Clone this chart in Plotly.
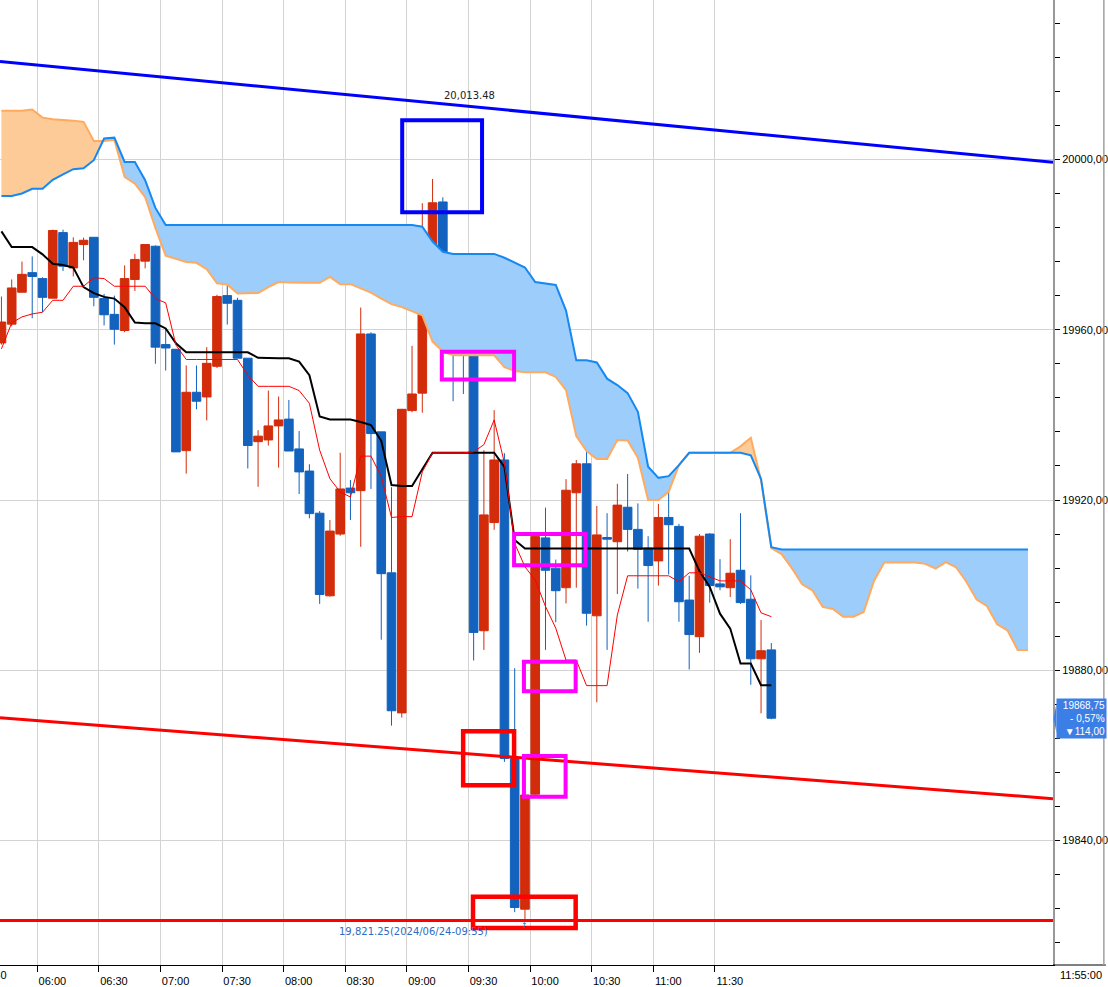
import plotly.graph_objects as go

# ---------------- data ----------------
first_time = "05:40"
n_candles = 76
n_future = 25

opens = [19956.9, 19961.3, 19968.8, 19973.4, 19972.0, 19967.4, 19982.8, 19974.5, 19980.0, 19981.7,
         19967.3, 19963.6, 19959.8, 19971.8, 19976.1, 19979.6, 19956.5, 19955.4, 19931.6, 19945.3,
         19944.2, 19951.4, 19968.0, 19966.9, 19953.3, 19933.7, 19934.1, 19937.4, 19939.0, 19932.0,
         19926.8, 19916.9, 19897.5, 19912.0, 19922.8, 19922.2, 19959.0, 19936.0, 19902.9, 19870.0,
         19941.0, 19945.1, 19974.9, 19990.0, 19976.8, 19960.4, 19954.8, 19889.3, 19914.7, 19929.4,
         19859.3, 19823.9, 19850.9, 19911.1, 19904.0, 19899.4, 19921.7, 19928.5, 19892.8, 19911.2,
         19910.2, 19918.3, 19913.1, 19908.7, 19905.7, 19915.9, 19913.8, 19896.5, 19887.9, 19912.0,
         19900.3, 19899.4, 19903.5, 19896.7, 19882.7, 19884.8]
highs = [19967.8, 19971.8, 19976.0, 19977.2, 19972.3, 19983.5, 19983.5, 19981.7, 19981.6, 19981.7,
         19968.4, 19968.0, 19975.1, 19977.8, 19980.0, 19979.8, 19960.1, 19955.4, 19951.6, 19951.6,
         19955.9, 19968.2, 19970.6, 19967.5, 19953.3, 19936.4, 19945.7, 19944.3, 19943.5, 19936.2,
         19928.4, 19917.4, 19915.3, 19931.1, 19924.7, 19965.2, 19959.4, 19936.0, 19923.0, 19941.4,
         19956.2, 19989.7, 19995.4, 19991.1, 19976.8, 19963.8, 19958.7, 19931.7, 19941.1, 19931.0,
         19880.5, 19850.7, 19911.6, 19918.2, 19906.0, 19924.9, 19929.4, 19931.7, 19918.6, 19916.9,
         19923.8, 19926.1, 19919.2, 19911.5, 19919.1, 19922.0, 19914.4, 19902.2, 19912.0, 19912.2,
         19906.1, 19910.8, 19916.9, 19902.3, 19891.8, 19886.4]
lows = [19956.5, 19960.8, 19968.8, 19962.7, 19964.1, 19967.4, 19973.8, 19972.5, 19976.3, 19965.5,
        19961.0, 19956.5, 19959.4, 19969.1, 19974.4, 19952.0, 19950.4, 19931.3, 19926.2, 19941.3,
        19938.7, 19951.0, 19961.2, 19953.3, 19927.4, 19923.1, 19932.8, 19927.6, 19931.5, 19921.4,
        19915.7, 19895.6, 19897.3, 19911.6, 19915.3, 19909.0, 19922.6, 19887.2, 19867.0, 19868.9,
        19940.6, 19940.5, 19960.3, 19961.8, 19943.2, 19944.9, 19882.3, 19884.8, 19913.0, 19858.5,
        19823.2, 19821.25, 19850.5, 19884.8, 19891.3, 19895.7, 19899.4, 19890.5, 19872.5, 19884.8,
        19897.9, 19907.9, 19899.2, 19891.4, 19899.9, 19902.5, 19891.4, 19880.2, 19884.1, 19895.9,
        19898.8, 19897.2, 19895.6, 19876.6, 19869.9, 19868.5]
closes = [19961.8, 19969.8, 19973.0, 19972.5, 19967.6, 19983.3, 19974.9, 19980.5, 19981.0, 19967.6,
          19963.5, 19960.1, 19972.0, 19976.5, 19980.0, 19955.9, 19955.7, 19931.3, 19945.3, 19943.2,
          19952.1, 19967.8, 19966.2, 19953.3, 19932.8, 19935.0, 19937.4, 19938.8, 19931.5, 19926.6,
          19916.8, 19897.8, 19912.7, 19922.6, 19921.7, 19959.0, 19935.6, 19902.7, 19870.5, 19941.3,
          19944.9, 19974.9, 19989.8, 19977.0, 19960.2, 19955.5, 19888.9, 19916.5, 19929.4, 19859.3,
          19824.3, 19850.7, 19911.4, 19903.5, 19898.7, 19922.3, 19928.5, 19893.4, 19911.8, 19910.8,
          19918.8, 19913.1, 19908.4, 19904.6, 19915.9, 19914.2, 19896.1, 19888.4, 19911.5, 19899.9,
          19899.6, 19902.8, 19895.9, 19882.7, 19884.6, 19868.75]

tenkan = [19955.5, 19961.6, 19963.0, 19963.7, 19964.1, 19966.9, 19966.9, 19970.2, 19970.2, 19972.2,
          19972.0, 19970.2, 19970.2, 19970.2, 19970.2, 19967.3, 19966.3, 19956.4, 19953.0, 19953.0,
          19953.0, 19953.0, 19953.0, 19953.0, 19949.3, 19946.7, 19946.7, 19946.7, 19946.7, 19945.7,
          19942.7, 19931.7, 19925.0, 19921.9, 19920.7, 19930.3, 19930.3, 19925.5, 19915.9, 19916.1,
          19916.1, 19926.6, 19931.1, 19931.1, 19931.1, 19931.1, 19931.3, 19933.0, 19938.8, 19928.7,
          19909.8, 19904.3, 19901.2, 19895.0, 19889.9, 19882.4, 19882.4, 19876.4, 19876.4, 19876.4,
          19893.0, 19902.2, 19902.2, 19902.2, 19902.2, 19902.2, 19900.8, 19902.9, 19902.9, 19902.0,
          19901.0, 19901.0, 19901.0, 19898.9, 19893.5, 19892.6]
kijun = [19983.1, 19979.4, 19979.4, 19979.4, 19977.7, 19975.5, 19975.2, 19974.6, 19970.0, 19968.6,
         19967.7, 19967.3, 19965.3, 19961.7, 19961.5, 19961.5, 19960.3, 19956.8, 19954.7, 19954.7,
         19954.7, 19954.7, 19954.7, 19954.7, 19954.7, 19953.4, 19953.3, 19953.3, 19953.3, 19952.5,
         19949.3, 19939.6, 19938.9, 19938.9, 19938.9, 19938.3, 19937.6, 19933.9, 19923.5, 19923.3,
         19923.3, 19927.2, 19931.1, 19931.1, 19931.1, 19931.1, 19931.1, 19931.1, 19931.1, 19927.8,
         19910.6, 19908.6, 19908.6, 19908.6, 19908.6, 19908.6, 19908.6, 19908.6, 19908.6, 19908.6,
         19908.6, 19908.6, 19908.6, 19908.6, 19908.6, 19908.6, 19908.6, 19908.6, 19903.3, 19899.6,
         19893.3, 19889.8, 19881.6, 19881.6, 19876.5, 19876.5]

# leading spans (current candles + 25 future periods)
span_a = [19991.4, 19991.4, 19992.0, 19993.1, 19993.1, 19995.2, 19996.5, 19997.7, 19997.9, 19999.8,
          20004.9, 20005.1, 19999.4, 19999.4, 19995.1, 19988.6, 19984.6, 19984.6, 19984.6, 19984.6,
          19984.6, 19984.6, 19984.6, 19984.6, 19984.6, 19984.6, 19984.6, 19984.6, 19984.6, 19984.6,
          19984.6, 19984.6, 19984.6, 19984.6, 19984.6, 19984.6, 19984.6, 19984.6, 19984.6, 19984.6,
          19984.6, 19984.2, 19980.7, 19978.3, 19977.8, 19977.8, 19977.8, 19977.8, 19977.8, 19976.9,
          19975.8, 19974.6, 19971.2, 19970.8, 19970.5, 19964.5, 19952.8, 19952.8, 19952.3, 19948.5,
          19947.0, 19945.1, 19940.7, 19927.8, 19925.2, 19925.6, 19928.2, 19931.1, 19931.1, 19931.1,
          19931.1, 19931.1, 19931.1, 19930.5, 19924.9, 19908.9, 19908.4, 19908.4, 19908.4, 19908.4,
          19908.4, 19908.4, 19908.4, 19908.4, 19908.4, 19908.4, 19908.4, 19908.4, 19908.4, 19908.4,
          19908.4, 19908.4, 19908.4, 19908.4, 19908.4, 19908.4, 19908.4, 19908.4, 19908.4, 19908.4,
          19908.4]
span_b = [20011.4, 20011.4, 20011.4, 20011.7, 20009.8, 20009.4, 20009.3, 20009.1, 20008.8, 20004.3,
          20004.3, 20004.6, 19995.9, 19994.3, 19991.1, 19983.9, 19977.4, 19976.7, 19975.9, 19975.7,
          19974.2, 19970.9, 19970.6, 19968.5, 19968.5, 19968.6, 19970.0, 19971.2, 19971.1, 19971.0,
          19971.0, 19971.0, 19972.4, 19970.7, 19970.7, 19969.7, 19968.7, 19967.3, 19966.0, 19965.3,
          19964.3, 19963.4, 19957.2, 19954.9, 19954.0, 19954.0, 19954.0, 19954.0, 19954.0, 19951.2,
          19950.3, 19950.0, 19950.0, 19950.0, 19948.9, 19945.8, 19935.0, 19931.5, 19929.6, 19929.6,
          19934.1, 19934.0, 19929.9, 19920.0, 19920.0, 19921.9, 19928.2, 19931.1, 19931.1, 19931.1,
          19931.1, 19931.1, 19932.6, 19934.6, 19924.6, 19908.7, 19907.3, 19904.0, 19900.2, 19898.8,
          19894.9, 19894.4, 19892.6, 19892.6, 19893.7, 19901.0, 19905.3, 19905.3, 19905.3, 19905.3,
          19905.0, 19903.9, 19905.4, 19904.2, 19900.8, 19896.6, 19895.1, 19890.8, 19889.4, 19884.8,
          19884.8]

x_tick_labels = ["06:00", "06:30", "07:00", "07:30", "08:00", "08:30", "09:00",
                 "09:30", "10:00", "10:30", "11:00", "11:30"]
y_tick_values = [19840, 19880, 19920, 19960, 20000]
y_tick_labels = ["19840,00", "19880,00", "19920,00", "19960,00", "20000,00"]

# hand-drawn objects (minutes from 06:00, price)
trend_x = [-18.2, 494.7]
blue_trend_y = [20023.0, 19999.3]
red_trend_y = [19868.85, 19849.85]
support_level = 19821.25
blue_label_text = "20,013.48"
blue_label_pos = (210.3, 20015.1)
low_date = "2024/06/24"
prev_close_change = (-0.57, 114.00)
boxes = [  # x0, x1, y0, y1, color, width
    (177.7, 216.6, 19987.6, 20009.2, "#0000FF", 4),
    (197.0, 232.2, 19948.3, 19954.8, "#FF00FF", 4),
    (232.2, 267.0, 19904.7, 19912.0, "#FF00FF", 4),
    (237.0, 262.2, 19875.1, 19882.0, "#FF00FF", 4),
    (237.0, 257.3, 19850.3, 19859.9, "#FF00FF", 4),
    (207.4, 232.2, 19853.0, 19865.7, "#FF0000", 4.5),
    (212.2, 262.2, 19819.5, 19826.8, "#FF0000", 4.5),
]
last_label = "11:55:00"
hidden_left_label = "05:30"

# ---------------- helpers ----------------
def to_min(s):
    h, m = s.split(":")
    return (int(h) - 6) * 60 + int(m)

start = to_min(first_time)
candle_min = [start + 5 * i for i in range(n_candles)]
cx = [m + 2.5 for m in candle_min]
cloud_x = [start + 5 * i + 2.5 for i in range(n_candles + n_future)]
times = ["%02d:%02d" % ((m + 360) // 60, (m + 360) % 60) for m in candle_min]

X_RANGE = [-18.2, 494.7]
RED = "#D22C0B"
BLUE = "#1262BE"

fig = go.Figure()

# cloud fill split by which span is on top
def runs(x, a, b):
    out = []
    sign = a[0] >= b[0]
    rx, ra, rb = [x[0]], [a[0]], [b[0]]
    for i in range(1, len(x)):
        s = a[i] >= b[i]
        if s != sign:
            d0 = a[i - 1] - b[i - 1]
            d1 = a[i] - b[i]
            t = d0 / (d0 - d1)
            xi = x[i - 1] + t * (x[i] - x[i - 1])
            yi = a[i - 1] + t * (a[i] - a[i - 1])
            rx.append(xi); ra.append(yi); rb.append(yi)
            out.append((sign, rx, ra, rb))
            rx, ra, rb = [xi], [yi], [yi]
            sign = s
        rx.append(x[i]); ra.append(a[i]); rb.append(b[i])
    out.append((sign, rx, ra, rb))
    return out

for sign, rx, ra, rb in runs(cloud_x, span_a, span_b):
    fig.add_trace(go.Scatter(
        x=rx + rx[::-1], y=ra + rb[::-1], mode="lines", fill="toself",
        fillcolor="#9DCDFB" if sign else "#FDCB98",
        line=dict(width=0), hoverinfo="skip", showlegend=False))

fig.add_trace(go.Scatter(x=cloud_x, y=span_b, mode="lines",
                         line=dict(color="#FFAA5E", width=2), showlegend=False))
fig.add_trace(go.Scatter(x=cloud_x, y=span_a, mode="lines",
                         line=dict(color="#1688F2", width=2), showlegend=False))
fig.add_trace(go.Scatter(x=cx, y=kijun, mode="lines",
                         line=dict(color="#000000", width=2), showlegend=False))
fig.add_trace(go.Scatter(x=cx, y=tenkan, mode="lines",
                         line=dict(color="#FF0000", width=1), showlegend=False))

fig.add_trace(go.Candlestick(
    x=cx, open=opens, high=highs, low=lows, close=closes, text=times,
    increasing=dict(line=dict(color=RED, width=1), fillcolor=RED),
    decreasing=dict(line=dict(color=BLUE, width=1), fillcolor=BLUE),
    whiskerwidth=0, showlegend=False))

# trend lines
fig.add_trace(go.Scatter(x=trend_x, y=blue_trend_y, mode="lines",
                         line=dict(color="#0000FF", width=3), showlegend=False))
fig.add_trace(go.Scatter(x=trend_x, y=red_trend_y, mode="lines",
                         line=dict(color="#FF0000", width=3), showlegend=False))
fig.add_trace(go.Scatter(x=trend_x, y=[support_level, support_level], mode="lines",
                         line=dict(color="#FF0000", width=3), showlegend=False))

for x0, x1, y0, y1, col, w in boxes:
    fig.add_shape(type="rect", xref="x", yref="y", x0=x0, x1=x1, y0=y0, y1=y1,
                  line=dict(color=col, width=w), fillcolor="rgba(0,0,0,0)", layer="above")

FONT = "Liberation Sans, Arial, sans-serif"
FONT2 = "DejaVu Sans, sans-serif"

fig.add_annotation(x=blue_label_pos[0], y=blue_label_pos[1], text=blue_label_text,
                   showarrow=False, font=dict(family=FONT2, size=10, color="#222222"))

low_i = min(range(n_candles), key=lambda i: lows[i])
low_val = lows[low_i]
low_txt = "{:,.2f}({}-{})".format(low_val, low_date, times[low_i])
fig.add_annotation(x=cx[low_i], y=low_val, text=low_txt, showarrow=False,
                   xanchor="right", yanchor="top", xshift=-35, yshift=-4,
                   font=dict(family=FONT2, size=10, color="#2D6BC4"))
fig.add_annotation(x=cx[low_i], y=low_val, text="↑", showarrow=False,
                   yanchor="top", yshift=1, font=dict(family=FONT2, size=8, color="#2D6BC4"))

# current price tag
last = closes[-1]
tag = "{}<br>- {}%<br>▼{}".format(
    ("%.2f" % last).replace(".", ","),
    ("%.2f" % abs(prev_close_change[0])).replace(".", ","),
    ("%.2f" % prev_close_change[1]).replace(".", ","))
fig.add_annotation(xref="paper", x=1.0, y=last, text=tag, showarrow=False,
                   xanchor="left", yanchor="middle", xshift=3, align="right",
                   width=47, bgcolor="#3B7EE6", borderpad=1,
                   font=dict(family=FONT, size=10, color="#FFFFFF"))
fig.add_shape(type="path", xref="paper", yref="y",
              path="M 1.0033,{} L 1.0005,{} L 1.0033,{} Z".format(last + 3.4, last, last - 3.4),
              fillcolor="#3B7EE6", line=dict(width=0), layer="above")

# last time label, partially hidden first label and frame lines
fig.add_annotation(xref="paper", yref="paper", x=1.0483, y=0, text=last_label,
                   showarrow=False, xanchor="right", yanchor="top", yshift=-2,
                   font=dict(family=FONT, size=11, color="#000000"))
hidden_px = (to_min(hidden_left_label) - X_RANGE[0]) / (X_RANGE[1] - X_RANGE[0])
fig.add_annotation(xref="paper", yref="paper", x=hidden_px, y=0, text=hidden_left_label,
                   showarrow=False, xanchor="left", yanchor="top", xshift=1, yshift=-2,
                   font=dict(family=FONT, size=11, color="#000000"))
fig.add_shape(type="line", xref="paper", yref="paper", x0=1.0, x1=1.0502, y0=0, y1=0,
              line=dict(color="#000000", width=1))
fig.add_shape(type="line", xref="paper", yref="paper", x0=1.0483, x1=1.0483, y0=0, y1=1,
              line=dict(color="#A0A0A0", width=1.5))

fig.update_layout(
    width=1108, height=987,
    margin=dict(l=0, r=53, t=0, b=22),
    paper_bgcolor="white", plot_bgcolor="white",
    boxgap=0.16, boxgroupgap=0,
    showlegend=False,
    font=dict(family=FONT, size=11, color="#000000"),
    xaxis=dict(
        range=X_RANGE, tickmode="array",
        tickvals=[to_min(t) for t in x_tick_labels], ticktext=x_tick_labels,
        ticks="outside", ticklen=6, tickcolor="#000000", ticklabelshift=15,
        showline=True, linecolor="#000000", linewidth=1,
        showgrid=True, gridcolor="#D3D3D3", gridwidth=1, zeroline=False,
        rangeslider=dict(visible=False), fixedrange=True,
        tickfont=dict(family=FONT, size=11, color="#000000"),
    ),
    yaxis=dict(
        range=[19810.79, 20037.43], side="right", tickmode="array",
        tickvals=y_tick_values, ticktext=y_tick_labels,
        ticks="outside", ticklen=5, tickcolor="#000000",
        minor=dict(dtick=8, ticks="outside", ticklen=5, tickcolor="#000000", showgrid=False),
        showline=True, linecolor="#999999", linewidth=2, mirror=False,
        showgrid=True, gridcolor="#D3D3D3", gridwidth=1, zeroline=False,
        tickfont=dict(family=FONT, size=11, color="#000000"),
    ),
)

fig.write_html("out.html", config={"displayModeBar": False},
               post_script="document.body.style.margin='0';document.body.style.overflow='hidden';")
